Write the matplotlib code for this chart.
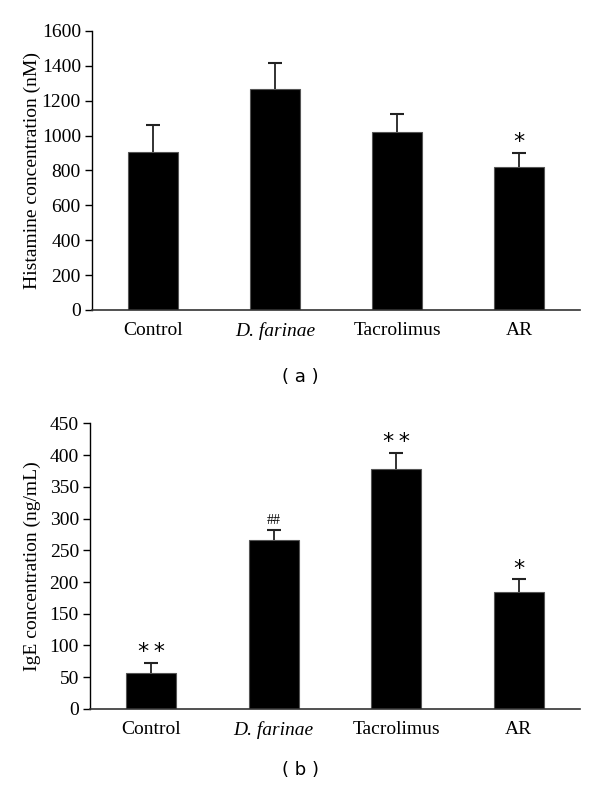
import matplotlib
matplotlib.use("Agg")
import matplotlib.pyplot as plt
import numpy as np

categories = ["Control", "D. farinae", "Tacrolimus", "AR"]
histamine = [908, 1269, 1022, 822]
histamine_err = [151, 147, 104, 78]
histamine_marks = ["", "", "", "*"]
ige = [57, 266, 378, 185]
ige_err = [15, 16, 26, 19]
ige_marks = ["**", "##", "**", "*"]

plt.rcParams['font.family'] = ['Liberation Serif', 'DejaVu Serif']

fig = plt.figure(figsize=(6, 7.88), dpi=100)
ax1 = fig.add_axes([0.1533, 0.6066, 0.8134, 0.3541])
ax2 = fig.add_axes([0.15, 0.1003, 0.8167, 0.3625])

def draw(ax, vals, errs, marks, ylim, step, ylabel, markoff, mark_fs, labx):
    x = np.arange(len(categories))
    vals = np.array(vals)
    errs = np.array(errs)
    ax.bar(x, vals, width=0.41, color='black', edgecolor='#555555', linewidth=0.8, zorder=2)
    ax.vlines(x, vals, vals + errs, colors='#222222', linewidth=1.3, zorder=3)
    ax.plot(x, vals + errs, linestyle='none', marker='_', markersize=10,
            markeredgewidth=1.5, color='#222222', zorder=3)
    for xi, v, e, m in zip(x, vals, errs, marks):
        if m:
            if m == "##":
                ax.text(xi, v + e + markoff, m, ha='center', va='bottom', fontsize=10,
                        family='Liberation Serif')
            else:
                ax.text(xi, v + e + markoff * 0.3, "\u2009".join(m), ha='center', va='bottom',
                        fontsize=mark_fs, family='DejaVu Sans')
    ax.set_xlim(-0.5, 3.5)
    ax.set_ylim(0, ylim)
    ax.set_yticks(np.arange(0, ylim + 1, step))
    ax.set_xticks(x)
    labels = ax.set_xticklabels(categories, fontsize=14)
    labels[1].set_style('italic')
    ax.tick_params(axis='x', length=0, pad=9)
    ax.tick_params(axis='y', direction='out', length=5, width=1, labelsize=14, pad=3)
    ax.spines['top'].set_visible(False)
    ax.spines['right'].set_visible(False)
    ax.spines['left'].set_linewidth(1)
    ax.spines['bottom'].set_linewidth(1.2)
    ax.spines['bottom'].set_color('#333333')
    ax.set_ylabel(ylabel, fontsize=14)
    ax.yaxis.set_label_coords(labx, 0.5)

draw(ax1, histamine, histamine_err, histamine_marks, 1600, 200,
     "Histamine concentration (nM)", 15, 16, -0.104)
draw(ax2, ige, ige_err, ige_marks, 450, 50,
     "IgE concentration (ng/mL)", 4, 16, -0.100)

fig.text(0.5, 1 - 377 / 788, "( a )", ha='center', va='center', fontsize=13, family='DejaVu Sans')
fig.text(0.5, 1 - 770 / 788, "( b )", ha='center', va='center', fontsize=13, family='DejaVu Sans')

fig.savefig("out.png", dpi=100)
